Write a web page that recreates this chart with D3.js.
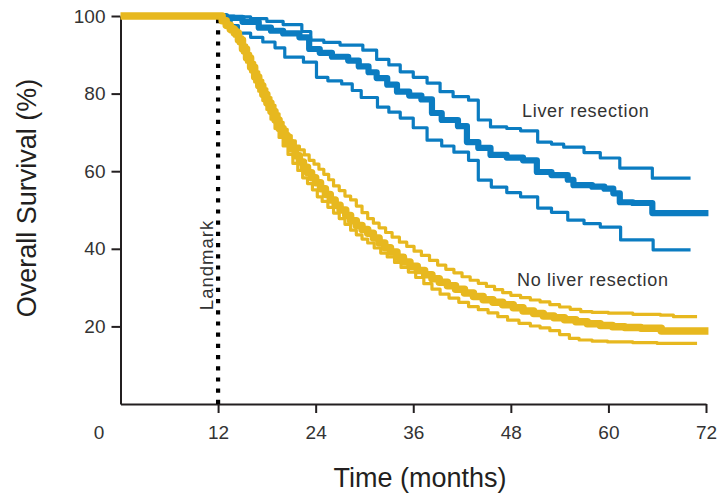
<!DOCTYPE html>
<html>
<head>
<meta charset="utf-8">
<script src="https://cdn.jsdelivr.net/npm/d3@7"></script>
<style>
  body { margin: 0; background: #fff; }
  svg { display: block; font-family: "Liberation Sans", Arial, sans-serif; }
</style>
</head>
<body>
<svg width="717" height="495"></svg>
<script>
// axis ticks
var xTicks = [0, 12, 24, 36, 48, 60, 72];
var yTicks = [20, 40, 60, 80, 100];
var landmarkMonth = 12;

// Liver resection: Kaplan-Meier estimate (months, survival %)
var resMonths = [12, 13, 15, 17, 18.5, 20, 22, 23.2, 24.5, 26, 28, 29.3, 30.5, 31.5, 32.8, 34, 35.5, 37, 38.3, 39.5, 41.5, 42.6, 44, 45.5, 47.5, 49.5, 51.2, 53, 55, 55.7, 58, 59.5, 60.6, 61.4, 63, 65.4, 72.3];
var resSurv   = [100, 99.5, 98.5, 97, 96.2, 95.5, 94.5, 91.5, 90.5, 89.5, 88.5, 87, 85.5, 84, 82.3, 80.5, 79.5, 78.5, 75, 73.2, 71.6, 67.5, 66, 64.2, 63.5, 62.8, 59.8, 59, 57.8, 56.4, 56, 55.5, 54.3, 52, 51.8, 49.2, 49.2];
// upper / lower 95% CI
var resUpMonths = [12, 14, 16, 18, 20, 22.3, 23.4, 25, 27, 29.8, 31.5, 33, 34.4, 36, 37.7, 39.3, 40.9, 42.8, 44, 45.5, 47.5, 49.2, 51.3, 53, 54.5, 57, 59, 61.4, 65.4, 70.1];
var resUpSurv   = [100, 99.8, 99.3, 98.6, 97.8, 96, 93.8, 93.2, 92.5, 91.2, 88.8, 87.4, 85.6, 84.2, 82.7, 80.5, 79.2, 78.3, 73.2, 71.4, 71, 70.4, 67.5, 67, 66.2, 64.8, 63.4, 60.8, 58.2, 58.2];
var resLoMonths = [12, 12.8, 13.6, 14.5, 16, 17.5, 19, 20.2, 22.5, 24.1, 25.5, 27.2, 28.5, 29.6, 31.6, 33, 34.4, 36, 37.7, 39.5, 41, 42.8, 44, 45.6, 47.5, 49.2, 51.3, 53, 55, 57, 59, 61.5, 65.5, 70.1];
var resLoSurv   = [100, 98.8, 97.5, 95.6, 94.5, 93.3, 91.8, 89.4, 88.1, 84.2, 83.3, 82.5, 80.8, 79, 76.5, 75.2, 73.7, 71.2, 68, 66.5, 64.9, 62.8, 57.7, 55.9, 54.5, 53.4, 50.5, 49.4, 47.4, 46.5, 45.6, 42.3, 39.7, 39.7];

// No liver resection
var noMonths = [0, 12, 12.5, 13, 13.5, 14, 14.5, 15, 15.5, 16, 16.5, 17, 17.5, 18, 18.5, 19, 19.5, 20, 20.5, 21, 21.5, 22, 22.5, 23, 23.5, 24, 24.6, 25.2, 25.8, 26.4, 27, 27.7, 28.3, 29, 29.7, 30.4, 31.1, 31.8, 32.5, 33.2, 34, 34.8, 35.6, 36.5, 37.4, 38.3, 39.2, 40.2, 41.2, 42.3, 43.4, 44.6, 45.8, 47, 48.3, 49.5, 50.8, 52, 53.3, 54.6, 56, 57.4, 59, 60.5, 62, 64, 66.5, 72.3];
var noSurv   = [100, 100, 98.8, 97.6, 96.6, 95.6, 93.8, 91.5, 89.2, 86.8, 84.3, 82, 79.8, 77.6, 75.4, 73.2, 71, 69.2, 67.4, 65.7, 64, 62.4, 61, 59.6, 58.3, 57, 55.5, 54, 52.6, 51.2, 50, 48.6, 47.2, 46, 45, 44, 42.8, 41.5, 40.3, 39.2, 37.8, 36.6, 35.5, 34.4, 33.3, 32.3, 31.4, 30.5, 29.6, 28.6, 27.7, 26.9, 26.2, 25.6, 24.8, 24, 23.3, 22.7, 22.2, 21.7, 21.2, 20.7, 20.2, 19.9, 19.7, 19.5, 18.8, 18.8];
var noUpMonths = [12, 12.5, 13, 13.5, 14, 14.5, 15, 15.5, 16, 16.5, 17, 17.5, 18, 18.5, 19, 19.5, 20, 20.5, 21, 21.5, 22, 22.6, 23.2, 23.8, 24.4, 25, 25.6, 26.2, 26.9, 27.6, 28.3, 29, 29.7, 30.4, 31.1, 31.8, 32.6, 33.4, 34.3, 35.2, 36.1, 37, 38, 39, 40, 41, 42, 43, 44, 45, 46, 47, 48, 49.2, 50.4, 51.6, 52.8, 54, 55.3, 56.6, 58, 60, 63, 66.4, 68, 70.9];
var noUpSurv   = [100, 99.2, 98.2, 97.3, 96.4, 94.6, 92.5, 90.3, 88, 85.6, 83.4, 81.2, 79, 77, 74.8, 72.6, 70.8, 69.2, 67.8, 66.5, 65.5, 64.2, 62.8, 61.8, 60.5, 59.2, 57.8, 56.2, 55, 53.6, 52.6, 51, 49.3, 47.8, 46.6, 45.4, 44.2, 43, 41.7, 40.6, 39.4, 38.3, 37, 35.8, 34.7, 33.8, 32.8, 31.9, 31.1, 30.3, 29.5, 28.7, 28, 27.4, 26.8, 26.3, 25.6, 25, 24.4, 23.8, 23.6, 23.4, 23.1, 22.9, 22.5, 22.5];
var noLoMonths = [12, 12.5, 13, 13.5, 14, 14.5, 15, 15.5, 16, 16.5, 17, 17.5, 18, 18.5, 19, 19.5, 20, 20.6, 21.2, 21.8, 22.4, 23, 23.6, 24.2, 24.8, 25.5, 26.2, 26.9, 27.6, 28.3, 29, 29.7, 30.4, 31.2, 32, 32.8, 33.7, 34.5, 35.4, 36.3, 37.3, 38.3, 39.3, 40.4, 41.6, 42.8, 44, 45.2, 46.4, 47.6, 49, 50.4, 51.6, 52.8, 54, 55.2, 56.4, 58, 59.9, 63, 66, 70.9];
var noLoSurv   = [100, 98.4, 97, 95.9, 94.8, 92.9, 90.5, 88.1, 85.6, 83, 80.6, 78.2, 75.9, 73.4, 71, 68.7, 66.5, 64.3, 62, 60.2, 58.3, 56.8, 55.2, 53.4, 52.2, 50.7, 49.2, 47.8, 46.3, 44.8, 43.6, 42.5, 41.5, 40.2, 38.9, 37.9, 36.5, 35.2, 34, 32.6, 31, 29.6, 28.3, 27.3, 26.2, 25.1, 24.3, 23.5, 22.5, 21.6, 20.8, 20.1, 19.6, 18.9, 17.9, 16.9, 16.5, 16.2, 16, 15.8, 15.6, 15.6];

var blue = "#0b7cc1", gold = "#e7b81f", ink = "#231f20";

var svg = d3.select("svg");

var x = d3.scaleLinear().domain([0, 72]).range([120.5, 706]);
var y = d3.scaleLinear().domain([0, 100]).range([404, 16]);

// Axes
var gx = svg.append("g")
  .attr("transform", "translate(0,404)")
  .call(d3.axisBottom(x).tickValues(xTicks).tickSize(9).tickSizeOuter(0).tickPadding(13));

var gy = svg.append("g")
  .attr("transform", "translate(120.5,0)")
  .call(d3.axisLeft(y).tickValues(yTicks).tickSize(9).tickSizeOuter(0).tickPadding(6));

[gx, gy].forEach(function(g) {
  g.attr("font-family", null).attr("font-size", null);
  g.select(".domain").attr("stroke", ink).attr("stroke-width", 2);
  g.selectAll(".tick line").attr("stroke", ink).attr("stroke-width", 2);
  g.selectAll(".tick text").attr("fill", "#333").style("font-size", "19px");
});

// the "0" label sits left of the corner, no tick mark
gx.selectAll(".tick").filter(d => d === 0).select("line").remove();
gx.selectAll(".tick").filter(d => d === 0).select("text").attr("x", -22);

// Landmark
svg.append("line")
  .attr("x1", x(landmarkMonth)).attr("x2", x(landmarkMonth))
  .attr("y1", 19).attr("y2", 404)
  .attr("stroke", "#000")
  .attr("stroke-width", 4.2)
  .attr("stroke-dasharray", "4.2,7");

svg.append("text")
  .attr("transform", "translate(213,265) rotate(-90)")
  .attr("text-anchor", "middle")
  .style("font-size", "18.5px")
  .style("letter-spacing", "1px")
  .attr("fill", "#333")
  .text("Landmark");

// Curves
var line = d3.line()
  .x(d => x(d[0]))
  .y(d => y(d[1]))
  .curve(d3.curveStepAfter);

function drawCurve(months, surv, color, width) {
  svg.append("path")
    .datum(d3.zip(months, surv))
    .attr("fill", "none")
    .attr("stroke", color)
    .attr("stroke-width", width)
    .attr("stroke-linejoin", "round")
    .attr("d", line);
}

drawCurve(resUpMonths, resUpSurv, blue, 3.2);
drawCurve(resLoMonths, resLoSurv, blue, 3.2);
drawCurve(resMonths, resSurv, blue, 6.2);
drawCurve(noUpMonths, noUpSurv, gold, 3.2);
drawCurve(noLoMonths, noLoSurv, gold, 3.2);
drawCurve(noMonths, noSurv, gold, 7.5);

// Curve labels
svg.append("text")
  .attr("x", 522).attr("y", 117)
  .style("font-size", "18px").style("letter-spacing", "0.7px")
  .attr("fill", "#333")
  .text("Liver resection");

svg.append("text")
  .attr("x", 517).attr("y", 285.5)
  .style("font-size", "18px").style("letter-spacing", "0.7px")
  .attr("fill", "#333")
  .text("No liver resection");

// Axis titles
svg.append("text")
  .attr("x", 420).attr("y", 487)
  .attr("text-anchor", "middle")
  .style("font-size", "27px")
  .attr("fill", ink)
  .text("Time (months)");

svg.append("text")
  .attr("transform", "translate(36,198) rotate(-90)")
  .attr("text-anchor", "middle")
  .style("font-size", "27px")
  .attr("fill", ink)
  .text("Overall Survival (%)");
</script>
</body>
</html>
